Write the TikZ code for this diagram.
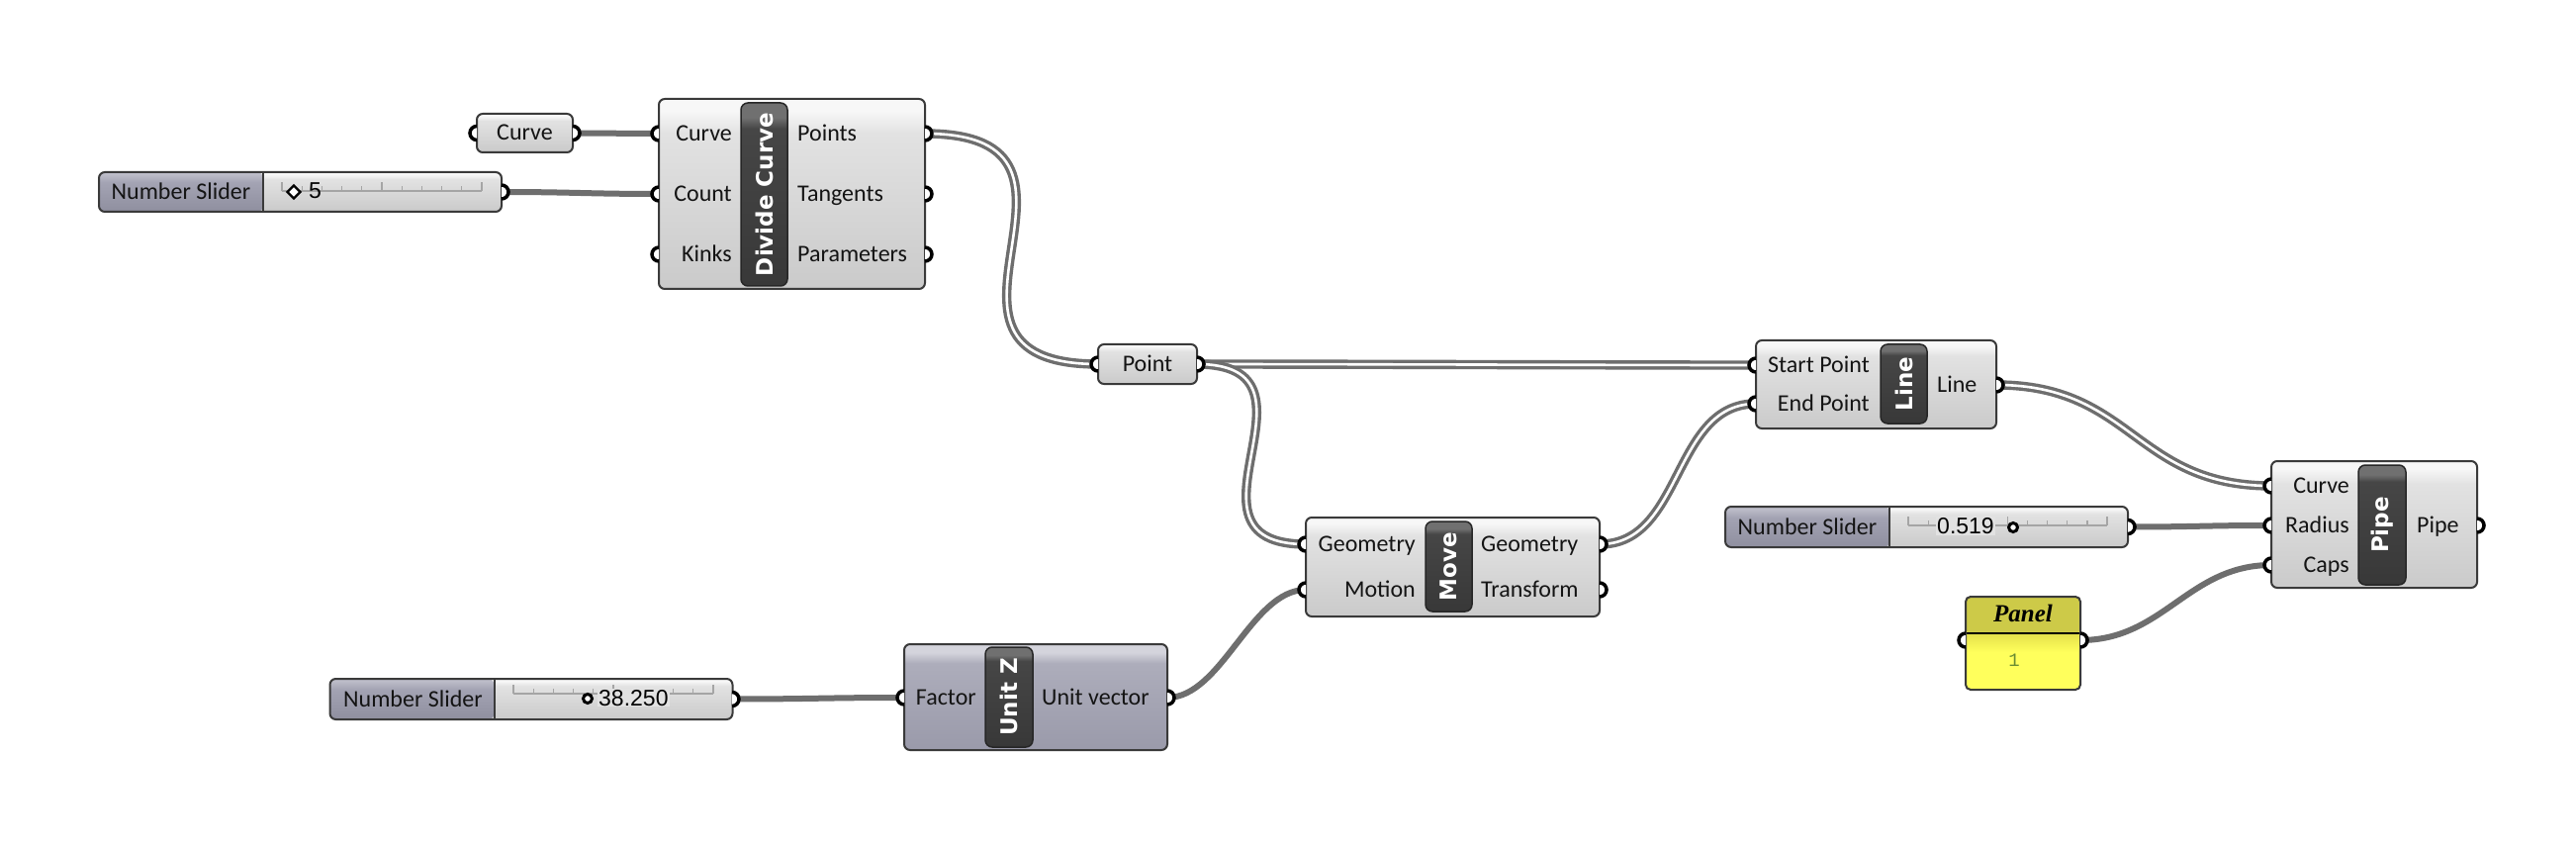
\documentclass[tikz,border=0pt]{standalone}
\usepackage{fontspec}
\setmainfont{Carlito}
\newfontfamily\barfont{DejaVu Sans}
\newfontfamily\valfont{Liberation Sans}
\newfontfamily\panelfont{Liberation Serif}
\newfontfamily\pmono{Liberation Mono}
\usetikzlibrary{calc}

\definecolor{cTop}{HTML}{F7F7F7}
\definecolor{cMid}{HTML}{E2E2E2}
\definecolor{cBot}{HTML}{CACACA}
\definecolor{uTop}{HTML}{D4D4DC}
\definecolor{uMid}{HTML}{ADADBB}
\definecolor{uBot}{HTML}{9A9AAA}
\definecolor{sTop}{HTML}{BCBCC8}
\definecolor{sMid}{HTML}{A3A3B3}
\definecolor{sBot}{HTML}{8F8F9F}
\definecolor{barL}{HTML}{707070}
\definecolor{barM}{HTML}{464646}
\definecolor{barD}{HTML}{383838}
\definecolor{boxedge}{HTML}{3A3A3A}
\definecolor{wirec}{HTML}{6E6E6E}
\definecolor{pHead}{HTML}{CDCA48}
\definecolor{pTop}{HTML}{E4E04A}
\definecolor{pBot}{HTML}{FFFF5C}
\definecolor{tickc}{HTML}{A5A5A5}
\definecolor{pnum}{HTML}{6A8C32}

\pgfdeclareverticalshading{compsh}{100bp}{color(0bp)=(cBot); color(25bp)=(cBot); color(66bp)=(cMid); color(72bp)=(cTop); color(100bp)=(cTop)}
\pgfdeclareverticalshading{unitsh}{100bp}{color(0bp)=(uBot); color(25bp)=(uBot); color(66bp)=(uMid); color(71bp)=(uTop); color(100bp)=(uTop)}
\pgfdeclareverticalshading{slidsh}{100bp}{color(0bp)=(sBot); color(25bp)=(sBot); color(62bp)=(sMid); color(72bp)=(sTop); color(100bp)=(sTop)}
\pgfdeclareverticalshading{barsh}{100bp}{color(0bp)=(barD); color(25bp)=(barD); color(68bp)=(barM); color(71bp)=(barL); color(100bp)=(barL)}
\pgfdeclareverticalshading{pansh}{100bp}{color(0bp)=(pBot); color(25bp)=(pBot); color(50bp)=(pBot); color(75bp)=(pTop); color(100bp)=(pTop)}

\tikzset{
 edgeline/.style={draw=boxedge, line width=2pt, rounded corners=6pt},
 comp/.style={edgeline, shade, shading=compsh, inner sep=0pt, outer sep=0pt},
 unitcomp/.style={edgeline, shade, shading=unitsh, inner sep=0pt, outer sep=0pt},
 barbox/.style={draw=black!85, line width=1.5pt, rounded corners=7pt, shade, shading=barsh, inner sep=0pt},
 bartext/.style={rotate=90, text=white, font=\barfont\bfseries\fontsize{23}{26}\selectfont, inner sep=0pt},
 lbl/.style={font=\fontsize{24}{28}\selectfont, inner sep=0pt, text=black!92},
 inlbl/.style={lbl, anchor=base east},
 outlbl/.style={lbl, anchor=base west},
 clbl/.style={lbl, anchor=base},
 wireone/.style={draw=wirec, line width=6pt},
 wiretwo/.style={draw=wirec, line width=3.4pt, double=white, double distance=2.6pt},
 gripst/.style={draw=black, fill=white, line width=3.5pt},
 tickst/.style={draw=tickc, line width=1.2pt},
 val/.style={font=\valfont\fontsize{23}{26}\selectfont, inner sep=1pt, anchor=base west, text=black},
 marker/.style={draw=black, line width=3pt, fill=white},
 sliderbox/.style={comp, minimum width=407pt, minimum height=40pt,
   path picture={\shade[shading=slidsh] (path picture bounding box.north west) rectangle ([xshift=166pt]path picture bounding box.south west);
   \draw[boxedge, line width=2pt] ([xshift=166pt]path picture bounding box.north west) -- ([xshift=166pt]path picture bounding box.south west);}},
}
\newcommand\gripin[1]{\filldraw[gripst] ([yshift=7pt]#1) arc[start angle=90,end angle=270,radius=7pt];}
\newcommand\gripout[1]{\filldraw[gripst] ([yshift=-7pt]#1) arc[start angle=-90,end angle=90,radius=7pt];}

\begin{document}
\begin{tikzpicture}[x=1pt,y=-1pt]
\fill[white] (0,0) rectangle (2604,858);
\useasboundingbox (0,0) rectangle (2604,858);

% ---------- grip coordinates ----------
\coordinate (cp-i) at (482,134.5);
\coordinate (cp-o) at (579,134.5);
\coordinate (s5-o) at (507,194);
\coordinate (dc-i1) at (666,135);
\coordinate (dc-i2) at (666,196);
\coordinate (dc-i3) at (666,257);
\coordinate (dc-o1) at (935,135);
\coordinate (dc-o2) at (935,196);
\coordinate (dc-o3) at (935,257);
\coordinate (pt-i) at (1110,368);
\coordinate (pt-o) at (1210,368);
\coordinate (ln-i1) at (1775,369);
\coordinate (ln-i2) at (1775,408);
\coordinate (ln-o) at (2018,389);
\coordinate (mv-i1) at (1320,550);
\coordinate (mv-i2) at (1320,596);
\coordinate (mv-o1) at (1617,550);
\coordinate (mv-o2) at (1617,596);
\coordinate (uz-i) at (914,705);
\coordinate (uz-o) at (1180,705);
\coordinate (s38-o) at (740,706.5);
\coordinate (s519-o) at (2151,532.5);
\coordinate (pp-i1) at (2296,491);
\coordinate (pp-i2) at (2296,531);
\coordinate (pp-i3) at (2296,571);
\coordinate (pp-o) at (2504,531);
\coordinate (pn-i) at (1987,647);
\coordinate (pn-o) at (2103,647);

% ---------- wires ----------
\draw[wireone] (cp-o) .. controls +(40,0) and +(-40,0) .. (dc-i1);
\draw[wireone] (s5-o) .. controls +(70,0) and +(-70,0) .. (dc-i2);
\draw[wiretwo] (dc-o1) .. controls +(210,0) and +(-210,0) .. (pt-i);
\draw[wiretwo] (pt-o) .. controls +(150,0) and +(-150,0) .. (ln-i1);
\draw[wiretwo] (pt-o) .. controls +(143,0) and +(-143,0) .. (mv-i1);
\draw[wiretwo] (mv-o1) .. controls +(85,0) and +(-85,0) .. (ln-i2);
\draw[wireone] (s38-o) .. controls +(80,0) and +(-80,0) .. (uz-i);
\draw[wireone] (uz-o) .. controls +(55,0) and +(-55,0) .. (mv-i2);
\draw[wiretwo] (ln-o) .. controls +(138,0) and +(-138,0) .. (pp-i1);
\draw[wireone] (s519-o) .. controls +(70,0) and +(-70,0) .. (pp-i2);
\draw[wireone] (pn-o) .. controls +(84,0) and +(-84,0) .. (pp-i3);

% ---------- Curve param ----------
\node[comp, minimum width=97pt, minimum height=39pt] (cp) at (530.5,134.5) {};
\node[clbl] (cpT) at (530.5,142) {Curve};

% ---------- Slider 5 ----------
\node[sliderbox] (s5) at (303.5,194) {};
\node[clbl] (s5T) at (183,201.5) {Number Slider};
\draw[tickst] (285,193) -- (487,193);
\foreach \i in {0,...,10} {\draw[tickst] ({285+20.2*\i},193) -- ++(0,-5);}
\foreach \i in {0,5,10} {\draw[tickst] ({285+20.2*\i},193) -- ++(0,-9);}
\node[val] (s5V) at (311,201) {5};
\draw[black, line width=2.2pt, fill=white] (297,187.5) -- (303.5,194) -- (297,200.5) -- (290.5,194) -- cycle;

% ---------- Divide Curve ----------
\node[comp, minimum width=269pt, minimum height=192pt] (dc) at (800.5,196) {};
\node[barbox, minimum width=47pt, minimum height=185pt] (dcbar) at (772.5,196.5) {};
\node[bartext] (dcN) at (dcbar) {Divide Curve};
\node[inlbl] (dcL1) at (740,142.5) {Curve};
\node[inlbl] (dcL2) at (740,203.5) {Count};
\node[inlbl] (dcL3) at (740,264.5) {Kinks};
\node[outlbl] (dcR1) at (806,142.5) {Points};
\node[outlbl] (dcR2) at (806,203.5) {Tangents};
\node[outlbl] (dcR3) at (806,264.5) {Parameters};

% ---------- Point ----------
\node[comp, minimum width=100pt, minimum height=40pt] (pt) at (1160,368) {};
\node[clbl] (ptT) at (1160,375.5) {Point};

% ---------- Line ----------
\node[comp, minimum width=243pt, minimum height=89pt] (ln) at (1896.5,388.5) {};
\node[barbox, minimum width=47pt, minimum height=80pt] (lnbar) at (1924.5,388) {};
\node[bartext] (lnN) at (lnbar) {Line};
\node[inlbl] (lnL1) at (1890,376.5) {Start Point};
\node[inlbl] (lnL2) at (1890,415.5) {End Point};
\node[outlbl] (lnR1) at (1958,396.5) {Line};

% ---------- Move ----------
\node[comp, minimum width=297pt, minimum height=100pt] (mv) at (1468.5,573) {};
\node[barbox, minimum width=47pt, minimum height=91pt] (mvbar) at (1464.5,572.5) {};
\node[bartext] (mvN) at (mvbar) {Move};
\node[inlbl] (mvL1) at (1431,557.5) {Geometry};
\node[inlbl] (mvL2) at (1431,603.5) {Motion};
\node[outlbl] (mvR1) at (1497,557.5) {Geometry};
\node[outlbl] (mvR2) at (1497,603.5) {Transform};

% ---------- Unit Z ----------
\node[unitcomp, minimum width=266pt, minimum height=107pt] (uz) at (1047,704.5) {};
\node[barbox, minimum width=48pt, minimum height=101pt] (uzbar) at (1020,704.5) {};
\node[bartext] (uzN) at (uzbar) {Unit Z};
\node[inlbl] (uzL1) at (987,712.5) {Factor};
\node[outlbl] (uzR1) at (1053,712.5) {Unit vector};

% ---------- Slider 38.250 ----------
\node[sliderbox, minimum height=41pt] (s38) at (537,706.5) {};
\node[clbl] (s38T) at (417.5,714) {Number Slider};
\draw[tickst] (519,701) -- (721,701);
\foreach \i in {0,...,10} {\draw[tickst] ({519+20.2*\i},701) -- ++(0,-5);}
\foreach \i in {0,5,10} {\draw[tickst] ({519+20.2*\i},701) -- ++(0,-9);}
\node[val, fill=cMid] (s38V) at (604,713) {38.250};
\draw[marker] (594,706) circle[radius=4.5pt];

% ---------- Slider 0.519 ----------
\node[sliderbox, minimum height=41pt] (s519) at (1947.5,532.5) {};
\node[clbl] (s519T) at (1827,540) {Number Slider};
\draw[tickst] (1929,531) -- (2130,531);
\foreach \i in {0,...,10} {\draw[tickst] ({1929+20.1*\i},531) -- ++(0,-5);}
\foreach \i in {0,5,10} {\draw[tickst] ({1929+20.1*\i},531) -- ++(0,-9);}
\node[val, fill=cMid] (s519V) at (1957,539.5) {0.519};
\draw[marker] (2035,533) circle[radius=4.5pt];

% ---------- Pipe ----------
\node[comp, minimum width=208pt, minimum height=128pt] (pp) at (2400,530) {};
\node[barbox, minimum width=48pt, minimum height=121pt] (ppbar) at (2408,530.5) {};
\node[bartext] (ppN) at (ppbar) {Pipe};
\node[inlbl] (ppL1) at (2375,498.5) {Curve};
\node[inlbl] (ppL2) at (2375,538.5) {Radius};
\node[inlbl] (ppL3) at (2375,578.5) {Caps};
\node[outlbl] (ppR1) at (2443,538.5) {Pipe};

% ---------- Panel ----------
\node[edgeline, rounded corners=5pt, minimum width=116pt, minimum height=94pt, inner sep=0pt, fill=pBot,
  path picture={
   \fill[pHead] (path picture bounding box.north west) rectangle ([yshift=-37pt]path picture bounding box.north east);
   \shade[shading=pansh] ([yshift=-37pt]path picture bounding box.north west) rectangle ([yshift=-75pt]path picture bounding box.north east);
   \draw[black, line width=2pt] ([yshift=-37pt]path picture bounding box.north west) -- ([yshift=-37pt]path picture bounding box.north east);
  }] (pn) at (2045,650) {};
\node[font=\panelfont\bfseries\itshape\fontsize{25}{28}\selectfont, anchor=base, inner sep=0pt] (pnT) at (2045,628) {Panel};
\node[font=\pmono\fontsize{19}{22}\selectfont, text=pnum, anchor=base, inner sep=0pt] (pn1) at (2036,673) {1};

% ---------- grips ----------
\gripin{cp-i} \gripout{cp-o}
\gripout{s5-o}
\gripin{dc-i1} \gripin{dc-i2} \gripin{dc-i3}
\gripout{dc-o1} \gripout{dc-o2} \gripout{dc-o3}
\gripin{pt-i} \gripout{pt-o}
\gripin{ln-i1} \gripin{ln-i2} \gripout{ln-o}
\gripin{mv-i1} \gripin{mv-i2} \gripout{mv-o1} \gripout{mv-o2}
\gripin{uz-i} \gripout{uz-o}
\gripout{s38-o}
\gripout{s519-o}
\gripin{pp-i1} \gripin{pp-i2} \gripin{pp-i3} \gripout{pp-o}
\gripin{pn-i} \gripout{pn-o}
\end{tikzpicture}
\end{document}
